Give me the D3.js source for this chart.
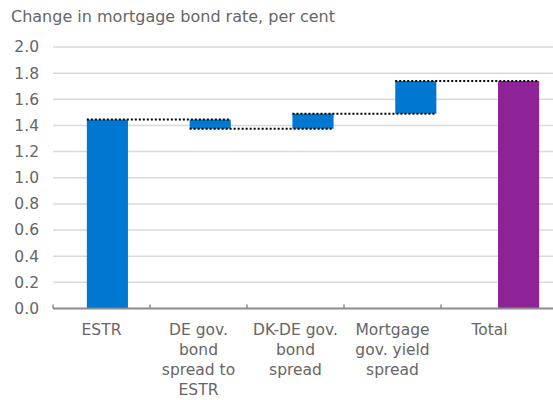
<!DOCTYPE html>
<html>
<head>
<meta charset="utf-8">
<script src="https://cdnjs.cloudflare.com/ajax/libs/d3/7.8.5/d3.min.js"></script>
<style>
  body { margin: 0; background: #fff; }
  text { font-family: "DejaVu Sans", "Open Sans", sans-serif; fill: #666; }
</style>
</head>
<body>
<svg></svg>
<script>
var categories = ["ESTR", "DE gov. bond spread to ESTR", "DK-DE gov. bond spread", "Mortgage gov. yield spread", "Total"];
var labelLines = [["ESTR"], ["DE gov.", "bond", "spread to", "ESTR"], ["DK-DE gov.", "bond", "spread"], ["Mortgage", "gov. yield", "spread"], ["Total"]];
var changes = [1.445, -0.07, 0.115, 0.25];
var total = 1.74;
var yTicks = [0, 0.2, 0.4, 0.6, 0.8, 1.0, 1.2, 1.4, 1.6, 1.8, 2.0];

var svgWidth = 553;
var svgHeight = 400;

var svg = d3.select("svg")
    .attr("width", svgWidth)
    .attr("height", svgHeight);

// build the waterfall steps
var steps = [];
var run = 0;
changes.forEach(function(d, i) {
    steps.push({ cat: categories[i], start: run, end: run + d, total: false });
    run += d;
});
steps.push({ cat: categories[4], start: 0, end: total, total: true });

var yScale = d3.scaleLinear()
    .domain([0, 2])
    .range([308.5, 47]);

// axis categories (labels + ticks)
var xScale = d3.scaleBand()
    .domain(categories)
    .range([53, 538]);

// bars sit on a slightly wider grid than the labels
var barScale = d3.scaleBand()
    .domain(categories)
    .range([56, 570])
    .paddingInner(0.6)
    .paddingOuter(0.3);

// title
svg.append("text")
    .attr("x", 11)
    .attr("y", 22)
    .style("font-size", "16px")
    .text("Change in mortgage bond rate, per cent");

// gridlines
svg.append("g")
    .selectAll("line")
    .data(yTicks.slice(1))
    .enter()
    .append("line")
    .attr("x1", 53)
    .attr("x2", svgWidth)
    .attr("y1", function(d) { return yScale(d); })
    .attr("y2", function(d) { return yScale(d); })
    .attr("stroke", "#d9d9d9")
    .attr("stroke-width", 1.5);

// y labels
svg.append("g")
    .selectAll("text")
    .data(yTicks)
    .enter()
    .append("text")
    .attr("x", 39)
    .attr("y", function(d) { return yScale(d); })
    .attr("dy", "0.35em")
    .attr("text-anchor", "end")
    .style("font-size", "15.5px")
    .text(function(d) { return d.toFixed(1); });

// bars
svg.append("g")
    .selectAll("rect")
    .data(steps)
    .enter()
    .append("rect")
    .attr("x", function(d) { return barScale(d.cat); })
    .attr("width", barScale.bandwidth())
    .attr("y", function(d) { return yScale(Math.max(d.start, d.end)); })
    .attr("height", function(d) { return Math.abs(yScale(d.start) - yScale(d.end)); })
    .attr("fill", function(d) { return d.total ? "#8e2398" : "#0078d2"; });

// dotted connectors
var conn = [];
for (var i = 0; i < steps.length - 1; i++) {
    conn.push({ from: steps[i].cat, to: steps[i + 1].cat, v: steps[i].end });
}
svg.append("g")
    .selectAll("line")
    .data(conn)
    .enter()
    .append("line")
    .attr("x1", function(d) { return barScale(d.from); })
    .attr("x2", function(d) { return barScale(d.to) + barScale.bandwidth(); })
    .attr("y1", function(d) { return yScale(d.v); })
    .attr("y2", function(d) { return yScale(d.v); })
    .attr("stroke", "#000")
    .attr("stroke-width", 2)
    .attr("stroke-dasharray", "2,2");

// x axis
svg.append("line")
    .attr("x1", 53)
    .attr("x2", svgWidth)
    .attr("y1", yScale(0))
    .attr("y2", yScale(0))
    .attr("stroke", "#8c8c8c")
    .attr("stroke-width", 2);

svg.append("g")
    .selectAll("line")
    .data(categories)
    .enter()
    .append("line")
    .attr("x1", function(d) { return xScale(d); })
    .attr("x2", function(d) { return xScale(d); })
    .attr("y1", yScale(0) - 4)
    .attr("y2", yScale(0))
    .attr("stroke", "#8c8c8c")
    .attr("stroke-width", 1.5);

var xl = svg.append("g")
    .selectAll("text")
    .data(categories)
    .enter()
    .append("text")
    .attr("text-anchor", "middle")
    .attr("x", function(d) { return xScale(d) + xScale.bandwidth() / 2; })
    .attr("y", 335)
    .style("font-size", "15.5px");

xl.selectAll("tspan")
    .data(function(d, i) { return labelLines[i]; })
    .enter()
    .append("tspan")
    .attr("x", function() { return d3.select(this.parentNode).attr("x"); })
    .attr("dy", function(d, i) { return i === 0 ? 0 : 20; })
    .text(function(d) { return d; });
</script>
</body>
</html>
